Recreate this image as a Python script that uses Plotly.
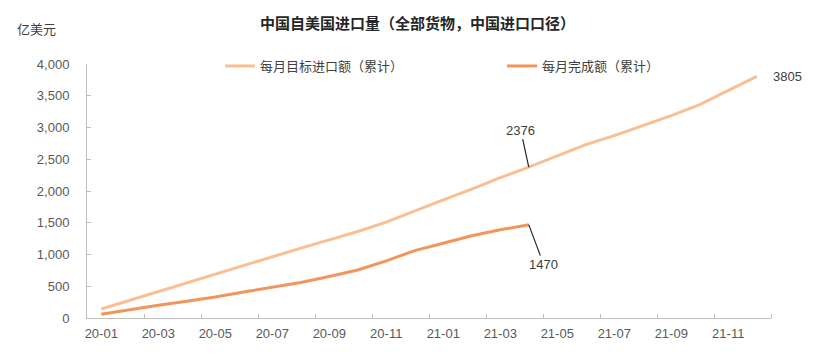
import plotly.graph_objects as go

months = ["20-01", "20-02", "20-03", "20-04", "20-05", "20-06", "20-07", "20-08",
          "20-09", "20-10", "20-11", "20-12", "21-01", "21-02", "21-03", "21-04",
          "21-05", "21-06", "21-07", "21-08", "21-09", "21-10", "21-11", "21-12"]
target_cum = [142, 280, 420, 555, 690, 830, 965, 1100, 1230, 1362, 1510, 1690,
              1860, 2030, 2210, 2376, 2556, 2730, 2872, 3030, 3188, 3361, 3587, 3805]
done_cum = [60, 135, 200, 265, 330, 410, 485, 560, 655, 757, 900, 1062,
            1178, 1294, 1389, 1470]

name_target = "每月目标进口额（累计）"
name_done = "每月完成额（累计）"
title_text = "中国自美国进口量（全部货物，中国进口口径）"
unit_text = "亿美元"

FONT = "Liberation Sans, Arial, Noto Sans CJK SC, sans-serif"
CJK = "Noto Sans CJK SC, sans-serif"
C_LIGHT = "#F9BF93"
C_DARK = "#F2955A"
AX = "#BFBFBF"
TXT = "#595959"

xi = list(range(len(months)))

fig = go.Figure()
fig.add_trace(go.Scatter(x=xi, y=target_cum, mode="lines", name=name_target,
                         line=dict(color=C_LIGHT, width=3)))
fig.add_trace(go.Scatter(x=xi[:len(done_cum)], y=done_cum, mode="lines", name=name_done,
                         line=dict(color=C_DARK, width=3)))

i_mid = len(done_cum) - 1
fig.add_annotation(x=xi[i_mid], y=target_cum[i_mid], text=str(target_cum[i_mid]),
                   showarrow=True, arrowhead=0, arrowwidth=1.2, arrowcolor="#262626",
                   ax=-8, ay=-37, font=dict(family=FONT, size=13, color="#404040"))
fig.add_annotation(x=xi[i_mid], y=done_cum[-1], text=str(done_cum[-1]),
                   showarrow=True, arrowhead=0, arrowwidth=1.2, arrowcolor="#262626",
                   ax=15, ay=40, font=dict(family=FONT, size=13, color="#404040"))
fig.add_annotation(x=xi[-1], y=target_cum[-1], text=str(target_cum[-1]),
                   showarrow=False, xanchor="left", xshift=14, yanchor="middle",
                   font=dict(family=FONT, size=13, color="#404040"))

fig.add_annotation(xref="paper", yref="paper", x=(417.6 - 87) / 684, y=1 + (64 - 22) / 254,
                   text="<b>" + title_text + "</b>", showarrow=False,
                   xanchor="center", yanchor="middle",
                   font=dict(family=CJK, size=15, color="#262626"))
fig.add_annotation(xref="paper", yref="paper", x=(15 - 87) / 684, y=1 + (64 - 28) / 254,
                   text=unit_text, showarrow=False, xanchor="left", yanchor="middle",
                   font=dict(family=CJK, size=13, color="#404040"))

fig.update_layout(
    width=831, height=360,
    margin=dict(l=87, r=60, t=64, b=42),
    plot_bgcolor="white", paper_bgcolor="white",
    font=dict(family=FONT, size=13, color=TXT),
    showlegend=True,
    legend=dict(orientation="h", x=(220 - 87) / 684, y=1 - 2 / 254,
                xanchor="left", yanchor="middle",
                entrywidth=237, entrywidthmode="pixels",
                font=dict(family=CJK, size=13, color="#404040"),
                bgcolor="rgba(0,0,0,0)"),
    xaxis=dict(range=[-0.5, len(months) - 0.5], tickmode="array",
               tickvals=xi[::2], ticktext=months[::2], ticks="",
               showline=True, linecolor=AX, linewidth=1, showgrid=False, zeroline=False,
               ticklabelstandoff=3,
               tickfont=dict(family=FONT, size=13, color=TXT),
               minor=dict(tickmode="array",
                          tickvals=[v + 1.5 for v in xi[::2]],
                          ticks="inside", ticklen=4, tickcolor=AX, tickwidth=1,
                          showgrid=False)),
    yaxis=dict(range=[0, 4000], dtick=500, tickformat=",", ticks="inside",
               ticklen=4, tickcolor=AX, showline=True, linecolor=AX, linewidth=1,
               showgrid=False, zeroline=False, ticklabelstandoff=14,
               tickfont=dict(family=FONT, size=13, color=TXT)),
)

fig.write_html("out.html", config={"displayModeBar": False},
               post_script="document.body.style.margin='0';document.body.style.padding='0';")
